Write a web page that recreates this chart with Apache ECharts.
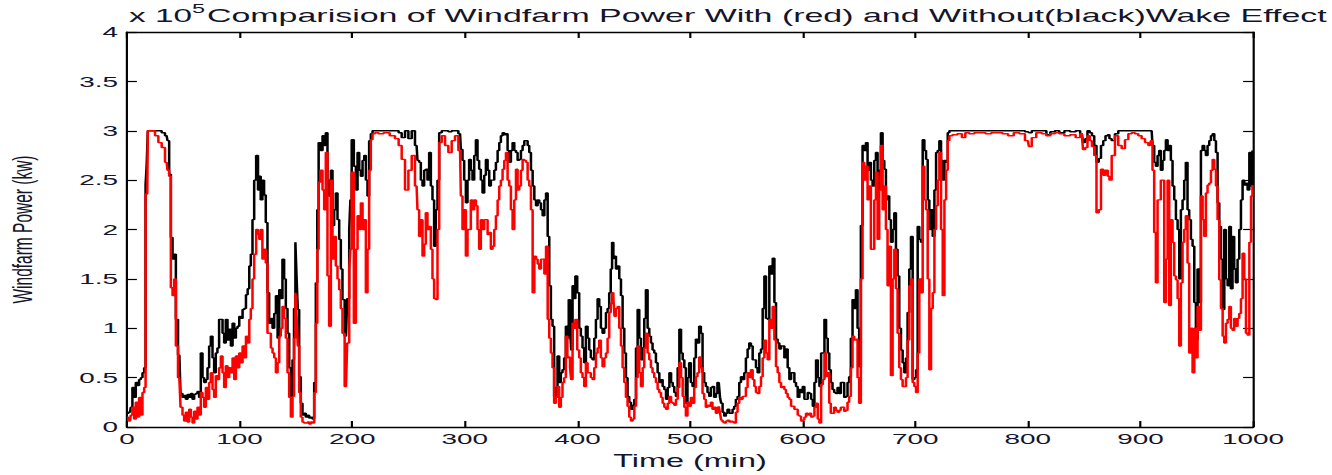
<!DOCTYPE html>
<html><head><meta charset="utf-8">
<script src="https://cdn.jsdelivr.net/npm/echarts@6/dist/echarts.min.js"></script>
<style>
html,body{margin:0;padding:0;background:#fff;overflow:hidden;}
#wrap{width:1332px;height:475px;position:relative;overflow:hidden;background:#fff;}
#chart{position:absolute;left:0;top:0;height:475px;transform-origin:0 0;}
</style></head><body>
<div id="wrap"><div id="chart"></div></div>
<script>
// ---- data (power in units of 1e5 kW, as on the axis) ----
const titleText = 'Comparision of Windfarm Power With (red) and Without(black)Wake Effect';
const xTicks = [0, 100, 200, 300, 400, 500, 600, 700, 800, 900, 1000];
const yTicks = [0, 0.5, 1, 1.5, 2, 2.5, 3, 3.5, 4];

const timeMin = [
0,2.7,4,5.6,7,8.6,10,11.5,13,14.5,
16,17,18,19,20.4,23.4,26.4,29.3,32.3,35.2,
36.7,38.2,39.7,41.2,42.7,44.1,46.5,48.6,50,51.5,
53,54.5,56,57.5,58.9,60.4,61.9,63.3,64.8,66.3,
67.8,69.3,70.8,72.2,73.7,75.2,76.7,78.1,79.6,81,
82.6,84.1,85.6,87,88.5,90,91.5,93,94.5,96,
97.4,99,100.4,102,103.3,105,106.3,108,109.2,110.7,
112.2,113.7,115.7,117,118,119.5,121,122.5,124,125.5,
127,128.5,130,131.5,133,134.5,135.9,137.3,138.8,140.3,
141.8,143.3,144.8,146.3,147.7,149,150.1,151.2,152.2,153.6,
155.1,156.6,158,159.6,161,162.5,164,165.5,167,168.4,
169.6,170.8,172.9,174.4,175.8,177.3,178.8,180.3,181.8,183.2,
184.7,186.2,187.7,189.2,190.6,192.1,194.5,196.6,198.1,198.7,
200.4,202.5,204,205.5,207,208.4,210,211.4,212.9,214.3,
215.8,217.3,218.8,221.7,225,230.6,236,240,242.5,245.4,
248.4,251.4,254.3,257.2,258.7,260.2,261.7,263.2,264.6,266.1,
267.6,269.1,270.6,272,273.5,275,276.5,278,281,283.9,
286.9,289.8,292.8,295.8,297.2,298.7,300.2,301.7,303.1,304.6,
306.1,307.6,309.1,310.6,312,313.5,315,316.5,318,319.5,
321,322.4,323.9,325.4,326.9,328.4,329.9,331.3,332.8,334.3,
335.8,337.3,338.7,340.2,341.7,343.2,344.7,346.2,347.6,349.1,
350.6,352.1,353.6,355.1,356.5,358,359.5,361,362.5,364,
365.4,366.9,368.4,369.9,371.4,372.9,374.3,375.7,377.2,378.6,
380.1,381.6,383.1,384.6,386,387.5,389,390.5,391.7,392.9,
394,395,396.4,397.6,398.8,400.9,402.3,403.8,405.3,406.8,
408.3,409.8,411.2,412.7,414.2,415.7,417.2,418.7,420.1,421.6,
423.1,424.6,426.1,427.5,429,430.2,431.4,432.5,433.5,435,
436.4,438,439.4,440.9,442.4,443.8,445.3,446.8,448.3,449.8,
451.3,452.8,454.2,455.7,457.2,458.7,460.1,461.6,463.1,464.6,
466,467.5,469,470.5,472,473.5,475,476.4,478,479.4,
481,482.4,484,485.3,486.8,488.3,489.8,491.3,492.8,494.2,
495.7,497,498.5,500,501.5,503,504.5,505.9,507.4,508.9,
510.4,511.9,513.3,514.8,516.3,517.8,519.2,520.7,522.2,523.7,
525,526.1,527.2,528.2,529.7,531.1,532.6,534.1,535.6,537.1,
538.5,540,541.5,543,544.5,546,547.4,548.9,550.4,551.9,
553.3,554.9,556.4,557.9,559.3,560.8,562.3,563.8,565.3,566.8,
568.2,569.7,571.2,572.7,574.2,575.7,577.1,578.6,580.1,581.6,
583.1,584.5,586,587.5,589,590.5,592,593.4,594.9,596.4,
597.9,599.4,600.9,602.3,603.8,605.3,606.8,608.3,609.8,611.2,
612.7,614.2,615.7,617.2,618.7,620.1,621.6,623.1,624.3,625.8,
627.3,628.8,630.3,631.7,633.2,634.7,636.2,637.7,639.2,640.6,
642.1,643.6,645.1,646.6,648.1,649.5,651,652.5,654,655.5,
657,658.4,659.9,661.4,662.9,664.4,665.9,667.3,668.8,670.3,
671.8,673.3,674.7,676.2,677.7,679.2,680.7,682.2,683.6,685.1,
686.6,688.1,689.6,691.1,692.5,694,695.5,697,698.5,700,
701.5,702.9,704.4,705.9,707.4,708.9,710.4,711.8,713.3,714.8,
716.3,717.8,719.3,720.7,722.2,723.7,725.2,726.7,728.2,729.6,
731.1,735,740,743,746,750,755,760,765,770,
775,780,785,790,795,800,802,805,810,815,
818,822,826,830,835,840,845,848,850,852,
854,856,858,860,862,864,866,868,870,872,
873,876,878.8,881.9,884.8,887.8,890.8,893.7,896.7,899.6,
902.6,905.6,908.6,910,911.5,913,914.5,916,917.4,918.9,
920.4,921.9,923.4,924.9,926.3,927.8,929.3,930.8,932.3,933.8,
935.2,936.7,938.2,939.6,941.1,942.6,944.1,945.6,947.1,948.6,
950,951.5,953,954.5,956,957.4,958.9,960.4,961.9,963.4,
964.9,966.4,967.8,969.3,970.8,972.3,973.8,975.2,976.7,978.2,
979.7,981,982.6,984,985.6,987,988.6,990,991.5,993,
994.5,996,997.5,999,1000
];

// without wake effect (black)
const powerWithoutWake = [
0.14,0.15,0.2,0.40,0.3,0.45,0.42,0.48,0.5,0.55,
0.6,2.45,2.66,3.0,3.0,3.0,3.0,3.0,2.98,2.95,
2.9,2.56,1.92,1.7,1.75,1.09,0.73,0.34,0.3,0.32,
0.28,0.33,0.3,0.34,0.28,0.33,0.34,0.36,0.3,0.75,
0.5,0.45,0.48,0.6,0.82,0.92,0.7,0.55,0.75,0.8,
1.09,1.09,0.95,0.85,1.09,0.88,0.99,0.82,1.05,0.9,
1.0,1.02,1.12,1.1,1.19,1.2,1.34,1.4,1.63,1.75,
2.1,2.5,2.75,2.4,2.54,2.3,2.5,2.35,2.07,1.36,
1.05,1.1,1.0,1.15,1.33,0.9,1.39,1.3,1.7,1.5,
1.2,0.95,0.6,0.31,0.68,1.2,1.87,1.5,1.19,0.51,
0.24,0.12,0.14,0.1,0.12,0.09,0.1,0.08,0.45,1.46,
2.2,2.88,2.8,2.95,2.85,2.98,2.5,2.34,2.6,2.04,
2.2,2.37,2.1,1.9,1.6,1.29,0.92,1.3,2.0,2.3,
2.91,2.64,2.4,2.78,2.6,2.54,2.7,2.75,2.5,2.34,
2.9,2.97,3.0,3.0,3.0,3.0,3.0,3.0,2.98,2.93,
3.0,2.92,3.0,2.85,2.7,2.68,2.5,2.44,2.6,2.61,
2.5,2.78,2.44,2.3,1.83,2.2,2.5,2.98,3.0,3.0,
2.99,3.0,3.0,2.97,2.81,2.7,2.5,2.27,2.5,2.71,
2.6,2.5,2.75,2.91,2.7,2.61,2.5,2.37,2.55,2.71,
2.6,2.44,2.5,2.5,2.6,2.68,2.8,2.88,2.95,2.98,
2.96,2.97,2.8,2.68,2.8,2.88,2.8,2.78,2.7,2.71,
2.8,2.85,2.9,2.9,2.85,2.78,2.6,2.44,2.3,2.24,
2.3,2.27,2.2,2.14,2.3,2.37,1.93,1.43,1.09,1.02,
0.31,0.4,0.72,0.45,0.55,0.58,0.7,1.02,0.9,1.29,
1.0,0.78,1.43,1.3,1.53,1.36,1.0,0.92,0.8,0.65,
1.02,0.9,0.78,0.7,0.68,0.9,1.09,1.3,1.22,1.0,
0.95,1.0,1.16,1.2,1.36,1.6,1.87,1.7,1.73,1.6,
1.63,1.5,1.33,1.0,0.75,0.5,0.31,0.25,0.18,0.22,
0.28,0.8,1.19,0.9,0.68,0.8,1.1,1.39,1.0,0.92,
0.85,0.78,0.75,0.65,0.55,0.45,0.48,0.41,0.38,0.28,
0.4,0.55,0.45,0.41,0.35,0.31,0.6,0.99,0.75,0.68,
0.6,0.24,0.5,0.65,0.45,0.41,0.7,0.89,0.85,1.02,
0.95,0.55,0.45,0.41,0.35,0.31,0.4,0.41,0.3,0.34,
0.45,0.45,0.3,0.24,0.15,0.11,0.14,0.18,0.14,0.14,
0.18,0.21,0.28,0.31,0.45,0.51,0.48,0.55,0.7,0.79,
0.85,0.82,0.68,0.68,0.6,0.55,0.75,0.79,1.2,1.53,
1.1,1.09,1.63,1.55,1.71,1.26,0.89,0.85,0.79,0.82,
0.82,0.7,0.79,0.6,0.48,0.55,0.55,0.45,0.41,0.3,
0.38,0.35,0.41,0.28,0.28,0.35,0.34,0.28,0.21,0.45,
0.68,0.5,0.41,0.75,0.75,1.09,0.9,0.75,0.58,0.45,
0.38,0.35,0.34,0.4,0.34,0.45,0.45,0.3,0.31,0.45,
0.51,0.9,1.29,1.2,1.39,1.0,0.61,2.04,2.85,2.8,
2.88,2.6,2.68,2.5,2.44,2.7,2.78,2.4,2.6,2.98,
2.7,2.61,2.3,2.34,2.1,1.87,2.0,2.17,1.8,1.53,
1.0,0.78,0.65,0.55,0.7,1.16,1.6,1.93,0.48,0.5,
0.58,2.03,1.9,1.87,2.91,2.8,2.71,2.3,2.0,2.2,
1.93,2.4,2.78,2.8,2.9,2.7,2.5,2.7,2.68,2.98,
3.0,3.0,3.0,3.0,3.0,3.0,3.0,3.0,3.0,3.0,
3.0,3.0,3.0,3.0,3.0,2.99,2.98,3.0,3.0,3.0,
2.96,2.99,3.0,2.98,3.0,2.99,3.0,2.97,2.88,2.92,
3.0,2.98,2.95,2.85,2.68,2.72,2.85,2.9,2.95,2.96,
2.92,2.9,2.97,3.0,3.0,3.0,3.0,3.0,3.0,3.0,
3.0,3.0,3.0,3.0,2.85,2.68,2.64,2.75,2.8,2.6,
2.7,2.8,2.91,2.8,2.85,2.7,2.44,2.3,2.1,2.0,
1.5,2.2,2.3,2.5,2.68,2.2,2.1,1.9,1.83,1.26,
0.88,1.6,1.26,2.8,2.85,2.8,2.75,2.85,2.9,2.95,
2.97,2.9,2.78,2.27,2.03,1.7,1.19,2.0,1.5,1.43,
2.03,1.4,1.93,1.6,1.46,1.7,2.0,2.3,2.5,2.45,
2.47,2.4,2.78,2.44,2.8
];

// with wake effect (red)
const powerWithWake = [
0.10,0.06,0.12,0.2,0.08,0.25,0.1,0.3,0.12,0.35,
0.4,2.36,2.36,3.0,3.0,3.0,2.95,2.88,2.83,2.68,
2.6,2.54,1.41,1.33,1.5,0.82,0.5,0.2,0.12,0.06,
0.15,0.05,0.18,0.1,0.04,0.16,0.08,0.2,0.12,0.35,
0.3,0.2,0.4,0.28,0.45,0.55,0.38,0.3,0.52,0.48,
0.6,0.72,0.55,0.4,0.62,0.5,0.6,0.55,0.7,0.48,
0.72,0.6,0.75,0.65,0.82,0.7,0.92,0.85,1.09,1.2,
1.5,1.75,2.0,1.95,1.9,2.0,1.7,1.8,1.66,0.95,
0.95,0.8,0.75,0.7,0.55,0.65,0.92,1.0,1.22,1.1,
0.9,0.55,0.3,0.1,0.31,0.9,1.36,1.1,0.82,0.35,
0.1,0.05,0.04,0.04,0.05,0.03,0.05,0.04,0.35,1.05,
1.8,2.48,2.6,2.4,2.2,2.78,1.53,1.02,2.5,1.7,
1.93,1.63,1.5,1.39,1.2,0.95,0.41,0.85,1.6,1.8,
2.58,1.05,1.8,2.14,2.0,2.27,2.0,2.1,1.36,1.8,
2.6,2.91,2.97,2.98,2.97,2.98,2.95,2.92,2.85,2.71,
2.4,2.6,2.75,2.44,2.2,1.93,2.1,1.73,1.85,2.17,
2.0,2.03,1.8,1.5,1.3,1.29,2.0,2.88,2.95,2.85,
2.78,2.9,2.95,2.8,2.34,2.0,2.2,1.73,2.0,2.0,
2.3,2.2,2.3,2.24,2.0,1.8,2.1,2.0,2.1,2.1,
1.95,1.97,1.8,1.83,2.0,2.14,2.3,2.44,2.5,2.61,
2.7,2.78,2.5,2.44,2.2,2.0,2.3,2.61,2.4,2.44,
2.6,2.71,2.7,2.68,2.5,2.44,2.2,1.36,1.73,1.7,
1.65,1.6,1.7,1.7,1.55,1.83,1.09,0.9,0.75,0.6,
0.24,0.3,0.41,0.2,0.3,0.45,0.5,0.92,0.7,0.71,
0.6,0.48,1.05,1.0,1.09,0.78,0.7,0.55,0.5,0.41,
0.65,0.55,0.55,0.5,0.48,0.6,0.75,0.8,0.88,0.7,
0.61,0.7,0.75,0.9,1.16,1.25,1.36,1.3,1.12,1.2,
1.22,1.0,0.82,0.6,0.45,0.3,0.21,0.1,0.06,0.08,
0.21,0.5,0.82,0.55,0.41,0.6,0.8,0.95,0.75,0.68,
0.6,0.55,0.5,0.45,0.38,0.35,0.3,0.24,0.2,0.18,
0.24,0.31,0.25,0.24,0.22,0.28,0.4,0.65,0.5,0.31,
0.2,0.11,0.25,0.21,0.3,0.24,0.4,0.51,0.55,0.71,
0.6,0.34,0.28,0.2,0.22,0.21,0.25,0.18,0.2,0.14,
0.2,0.21,0.14,0.07,0.05,0.04,0.06,0.07,0.05,0.06,
0.05,0.04,0.15,0.24,0.3,0.28,0.31,0.31,0.4,0.55,
0.5,0.58,0.48,0.41,0.35,0.34,0.41,0.51,0.7,0.88,
0.75,0.68,1.09,1.0,1.22,0.88,0.61,0.55,0.45,0.4,
0.41,0.38,0.34,0.3,0.28,0.21,0.21,0.18,0.18,0.12,
0.11,0.06,0.07,0.1,0.14,0.12,0.14,0.1,0.11,0.2,
0.24,0.08,0.04,0.43,0.48,0.75,0.51,0.55,0.24,0.14,
0.14,0.2,0.17,0.15,0.17,0.2,0.2,0.16,0.17,0.25,
0.31,0.6,0.92,0.88,0.89,0.5,0.24,1.5,2.68,2.5,
2.64,2.3,2.44,1.8,1.8,2.3,2.58,1.9,2.4,2.85,
2.2,2.44,2.0,1.43,1.83,0.52,1.5,1.8,1.4,0.95,
0.6,0.48,0.41,0.41,0.5,0.88,1.43,1.5,0.45,0.41,
0.35,0.75,1.5,1.36,2.64,2.3,2.2,1.5,0.58,1.2,
1.36,2.0,2.24,2.5,2.78,2.0,1.33,2.3,2.6,2.9,
2.95,2.96,2.97,2.93,2.98,2.97,2.98,2.98,2.97,2.98,
2.98,2.97,2.95,2.98,2.97,2.9,2.84,2.93,2.98,2.97,
2.95,2.97,2.98,2.97,2.95,2.96,2.93,2.97,2.81,2.83,
2.95,2.9,2.84,2.75,2.17,2.2,2.61,2.55,2.6,2.54,
2.5,2.75,2.95,2.85,2.82,2.91,2.97,2.98,2.97,2.95,
2.92,2.88,2.85,2.9,2.6,1.97,1.46,2.3,2.3,2.5,
2.5,1.26,1.7,2.5,1.23,2.1,1.87,1.53,1.49,1.3,
0.82,1.46,1.87,2.0,2.14,1.66,0.75,1.0,0.55,1.0,
0.7,1.22,0.98,2.34,2.1,1.93,2.37,2.45,2.47,2.6,
2.71,2.61,2.44,2.1,1.49,1.2,0.92,0.85,1.05,1.09,
1.22,1.0,0.98,1.1,1.02,1.1,1.15,1.3,1.76,1.5,
0.95,0.93,1.87,2.34,2.45
];

// ---- layout (reference is horizontally stretched; chart is drawn narrow, then scaled in x) ----
const SX = 1.8;
const W = 1332 / SX;
const el = document.getElementById('chart');
el.style.width = W + 'px';
el.style.transform = 'scaleX(' + SX + ')';
const chart = echarts.init(el, null, {renderer: 'svg', width: W, height: 475});
const FONT = '"Liberation Sans", Arial, Helvetica, sans-serif';
const TXT = '#14142a';

const toPairs = arr => timeMin.map((t, i) => [t, arr[i]]);

const commonX = {
  type: 'value', min: xTicks[0], max: xTicks[xTicks.length - 1], interval: 100,
  splitLine: {show: false},
  axisLine: {show: true, onZero: false, lineStyle: {color: '#000', width: 1.4}},
  axisTick: {show: true, inside: true, length: 6, lineStyle: {color: '#000', width: 1.2}}
};
const commonY = {
  type: 'value', min: yTicks[0], max: yTicks[yTicks.length - 1], interval: 0.5,
  splitLine: {show: false},
  axisLine: {show: true, onZero: false, lineStyle: {color: '#000', width: 1.2}},
  axisTick: {show: true, inside: true, length: 5.5, lineStyle: {color: '#000', width: 1.2}}
};

const option = {
  animation: false,
  backgroundColor: '#ffffff',
  grid: {left: 127 / SX, right: (1332 - 1253) / SX, top: 32, bottom: 48, containLabel: false, outerBoundsMode: 'none'},
  title: [
    {text: 'x 10', left: 129 / SX, top: 6, padding: 0, textStyle: {fontFamily: FONT, fontSize: 18.5, fontWeight: 'normal', color: TXT}},
    {text: '5', left: 192 / SX, top: 2, padding: 0, textStyle: {fontFamily: FONT, fontSize: 13, fontWeight: 'normal', color: TXT}},
    {text: titleText, left: 207 / SX, top: 6, padding: 0, textStyle: {fontFamily: FONT, fontSize: 18.85, fontWeight: 'normal', color: TXT}}
  ],
  xAxis: [
    Object.assign({}, commonX, {
      position: 'bottom',
      name: 'Time (min)', nameLocation: 'middle', nameGap: 21,
      nameTextStyle: {fontFamily: FONT, fontSize: 18, color: TXT, verticalAlign: 'top'},
      axisLabel: {show: true, margin: 4, fontFamily: FONT, fontSize: 15.5, color: TXT, showMinLabel: true, showMaxLabel: true,
                  formatter: v => String(v)}
    }),
    Object.assign({}, commonX, {position: 'top', axisLabel: {show: false}})
  ],
  yAxis: [
    Object.assign({}, commonY, {
      position: 'left',
      name: 'Windfarm Power (kw)', nameLocation: 'middle', nameGap: 50, nameRotate: 90,
      nameTextStyle: {fontFamily: FONT, fontSize: 15.5, color: TXT},
      axisLabel: {show: true, margin: 5, fontFamily: FONT, fontSize: 15.5, color: TXT, showMinLabel: true, showMaxLabel: true,
                  formatter: v => String(v)}
    }),
    Object.assign({}, commonY, {position: 'right', axisLabel: {show: false}})
  ],
  series: [
    {
      name: 'Without wake (black)', type: 'line', xAxisIndex: 0, yAxisIndex: 0,
      data: toPairs(powerWithoutWake), step: 'middle', showSymbol: false, symbol: 'none',
      lineStyle: {color: '#000000', width: 1.4}, itemStyle: {color: '#000000'}, z: 2
    },
    {
      name: 'With wake (red)', type: 'line', xAxisIndex: 0, yAxisIndex: 0,
      data: toPairs(powerWithWake), step: 'middle', showSymbol: false, symbol: 'none',
      lineStyle: {color: '#ff0000', width: 1.4}, itemStyle: {color: '#ff0000'}, z: 3
    }
  ]
};
chart.setOption(option);
</script>
</body></html>
